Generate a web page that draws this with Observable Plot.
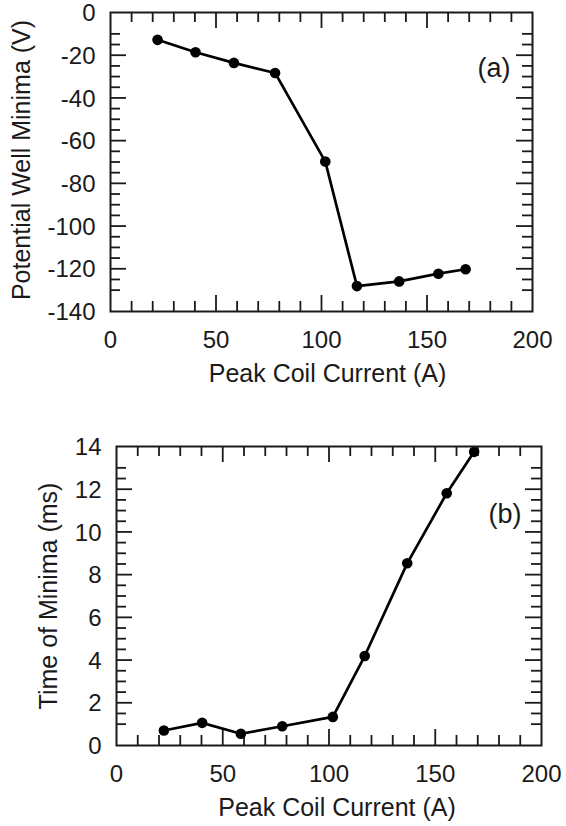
<!DOCTYPE html>
<html>
<head>
<meta charset="utf-8">
<script src="https://cdn.jsdelivr.net/npm/d3@7"></script>
<script src="https://cdn.jsdelivr.net/npm/@observablehq/plot@0.6"></script>
<style>
  body { margin: 0; background: #fff; }
  #chart svg { display: block; }
</style>
</head>
<body>
<div id="chart"></div>
<script>
// ---- data ----
const current = [22.3, 40.3, 58.5, 78.0, 101.8, 116.8, 136.8, 155.4, 168.3];          // Peak Coil Current (A)
const wellMinima = [-12.8, -18.6, -23.6, -28.3, -69.8, -128.1, -125.9, -122.3, -120.2]; // V
const timeOfMinima = [0.70, 1.06, 0.55, 0.90, 1.34, 4.19, 8.53, 11.81, 13.75];         // ms

// ---- tick labels ----
const xTickLabels = [0, 50, 100, 150, 200];
const yTickLabelsA = [0, -20, -40, -60, -80, -100, -120, -140];
const yTickLabelsB = [0, 2, 4, 6, 8, 10, 12, 14];
// tick marks (inward)
const xMajorTicks = [50, 100, 150];
const xMinorTicks = [10, 20, 30, 40, 60, 70, 80, 90, 110, 120, 130, 140, 160, 170, 180, 190];
const yMajorTicksA = [-20, -40, -60, -80, -100, -120];
const yMinorTicksA = [-10, -15, -25, -30, -35, -45, -50, -55, -65, -70, -75, -85, -90, -95, -105, -110, -115, -125, -130];
const yMajorTicksB = [2, 4, 6, 8, 10, 12];
const yMinorTicksB = [1, 1.5, 2.5, 3, 3.5, 4.5, 5, 5.5, 6.5, 7, 7.5, 8.5, 9, 9.5, 10.5, 11, 11.5, 12.5, 13];

const FONT = "'Liberation Sans', Arial, Helvetica, sans-serif";
const INK = "#1a1a1a";

function panel(cfg) {
  const W = 566;
  const fw = W - cfg.mL - cfg.mR;
  const fh = cfg.H - cfg.mT - cfg.mB;
  const rows = current.map((c, i) => ({x: c, y: cfg.values[i]}));
  const MAJ = 16, MIN = 10, TW = 1.8;
  return Plot.plot({
    width: W,
    height: cfg.H,
    marginTop: cfg.mT,
    marginBottom: cfg.mB,
    marginLeft: cfg.mL,
    marginRight: cfg.mR,
    style: {fontFamily: FONT, fontSize: "24px", color: INK, background: "#fff"},
    x: {domain: [0, 200]},
    y: {domain: cfg.yDomain},
    marks: [
      // inward tick marks: bottom & top
      Plot.tickX(xMinorTicks, {x: d => d, insetTop: fh - MIN, stroke: INK, strokeWidth: TW}),
      Plot.tickX(xMajorTicks, {x: d => d, insetTop: fh - MAJ, stroke: INK, strokeWidth: TW}),
      Plot.tickX(xMinorTicks, {x: d => d, insetBottom: fh - MIN, stroke: INK, strokeWidth: TW}),
      Plot.tickX(xMajorTicks, {x: d => d, insetBottom: fh - MAJ, stroke: INK, strokeWidth: TW}),
      // inward tick marks: left & right
      Plot.tickY(cfg.yMinor, {y: d => d, insetRight: fw - MIN, stroke: INK, strokeWidth: TW}),
      Plot.tickY(cfg.yMajor, {y: d => d, insetRight: fw - MAJ, stroke: INK, strokeWidth: TW}),
      Plot.tickY(cfg.yMinor, {y: d => d, insetLeft: fw - MIN, stroke: INK, strokeWidth: TW}),
      Plot.tickY(cfg.yMajor, {y: d => d, insetLeft: fw - MAJ, stroke: INK, strokeWidth: TW}),
      // tick labels
      Plot.axisX(xTickLabels, {tickSize: 0, tickPadding: 19, label: null, tickFormat: d => String(d), fill: INK}),
      Plot.axisY(cfg.yLabels, {tickSize: 0, tickPadding: 15, label: null, tickFormat: d => String(d), fill: INK, dy: 1}),
      // data
      Plot.line(rows, {x: "x", y: "y", stroke: "#000", strokeWidth: 2.7, clip: true}),
      Plot.dot(rows, {x: "x", y: "y", r: 5.3, fill: "#000", stroke: "none", clip: true}),
      // frame
      Plot.frame({stroke: INK, strokeWidth: 2}),
      // axis titles
      Plot.text([cfg.xTitle], {text: d => d, frameAnchor: "bottom", textAnchor: "middle", lineAnchor: "middle", dy: cfg.xTitleDy, dx: cfg.xTitleDx, fontSize: 25, fill: INK}),
      Plot.text([cfg.yTitle], {text: d => d, frameAnchor: "left", textAnchor: "middle", lineAnchor: "middle", rotate: -90, dx: cfg.yTitleDx, dy: cfg.yTitleDy, fontSize: 25, fill: INK}),
      // panel tag
      Plot.text([cfg.tag], {text: d => d, frameAnchor: "top-right", textAnchor: "end", lineAnchor: "middle", dx: cfg.tagDx, dy: cfg.tagDy, fontSize: 27, fill: INK})
    ]
  });
}

const chart = document.getElementById("chart");
chart.append(panel({
  H: 413, mT: 12, mB: 102, mL: 110, mR: 34,
  values: wellMinima, yDomain: [-140, 0],
  yLabels: yTickLabelsA, yMajor: yMajorTicksA, yMinor: yMinorTicksA,
  xTitle: "Peak Coil Current (A)", xTitleDy: 62, xTitleDx: 6,
  yTitle: "Potential Well Minima (V)", yTitleDx: -89, yTitleDy: -2,
  tag: "(a)", tagDx: -22, tagDy: 56
}));
chart.append(panel({
  H: 413, mT: 33, mB: 81, mL: 116, mR: 25,
  values: timeOfMinima, yDomain: [0, 14],
  yLabels: yTickLabelsB, yMajor: yMajorTicksB, yMinor: yMinorTicksB,
  xTitle: "Peak Coil Current (A)", xTitleDy: 62, xTitleDx: 8,
  yTitle: "Time of Minima (ms)", yTitleDx: -68, yTitleDy: 0,
  tag: "(b)", tagDx: -20, tagDy: 68
}));
</script>
</body>
</html>
